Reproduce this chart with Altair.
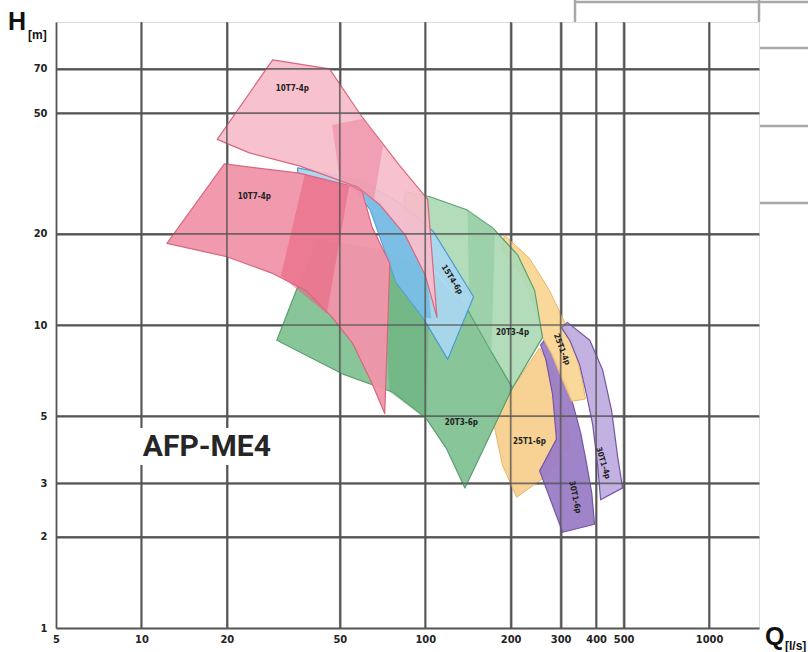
import altair as alt
import pandas as pd

# ---------------- data (Q in l/s, H in m) ----------------
x_ticks = [5, 10, 20, 50, 100, 200, 300, 400, 500, 1000]
y_ticks = [1, 2, 3, 5, 10, 20, 50, 70]

q_10t7_4p = [29, 46, 60, 81, 102, 110, 100, 85, 69, 58, 36, 24, 18.5]
h_10t7_4p = [75, 70, 48.5, 33.7, 26, 10.6, 14.6, 19.8, 25, 28.5, 33.5, 37, 41]

q_10t7_6p = [19.6, 36, 55.5, 60, 65, 75, 72, 65, 55.5, 47, 38, 29, 20, 12.3]
h_10t7_6p = [34, 31.7, 28.7, 27.5, 21, 16, 5.1, 6.4, 8.7, 10.6, 13, 14.8, 16.8, 18.6]

q_15t4 = [35.5, 59, 81, 107, 148, 120, 98, 79, 64, 57, 35.5]
h_15t4 = [33, 30, 25.3, 20.3, 12.4, 7.7, 10.6, 13.8, 24, 28, 31.7]

q_20t3_4p = [85, 104, 140, 173, 212, 243, 259, 203, 169, 143, 120, 100, 83]
h_20t3_4p = [27.5, 26.5, 24, 20.9, 17, 13, 9.1, 6.2, 8.3, 11, 13.8, 17, 20.3]

q_20t3_6p = [30, 35, 42, 69, 104, 143, 203, 138, 119, 101, 77, 51]
h_20t3_6p = [8.9, 12.9, 19, 17.7, 15.2, 11, 6.2, 2.9, 3.9, 4.9, 6, 6.9]

q_25t1_4p = [190, 233, 274, 310, 336, 356, 367, 328, 302, 279, 259, 243, 219, 187]
h_25t1_4p = [19.8, 16.6, 13, 10.2, 8.3, 6.7, 5.7, 5.6, 6.7, 8, 9.1, 11.6, 14.6, 17.7]

q_25t1_6p = [203, 253, 286, 310, 323, 270, 210, 187, 173, 190]
h_25t1_6p = [6.2, 8.4, 6.8, 5.2, 4.0, 3.2, 2.7, 3.45, 4.9, 5.7]

q_30t1_4p = [317, 380, 422, 454, 476, 496, 415, 405, 389, 370, 350, 323, 302]
h_30t1_4p = [10.2, 8.9, 7.1, 5.2, 3.7, 2.9, 2.65, 3.45, 4.7, 5.9, 7.4, 8.9, 9.8]

q_30t1_6p = [263, 286, 310, 333, 353, 370, 386, 395, 305, 253, 290, 281, 266, 255]
h_30t1_6p = [8.9, 7.8, 6.6, 5.4, 4.4, 3.5, 2.8, 2.2, 2.07, 3.3, 4.2, 5.9, 7.7, 8.6]

# best-efficiency (darker) zones inside some ranges
q_band_10t7_4p = [47, 61, 71, 66, 50]
h_band_10t7_4p = [45.7, 48, 39, 26, 30]
q_band_10t7_6p = [37.6, 54, 45, 31]
h_band_10t7_6p = [31.3, 28.8, 10.9, 14.5]
q_band_15t4 = [58, 70, 87, 102, 105, 98, 79, 64]
h_band_15t4 = [29, 25.3, 19.1, 14.1, 10.5, 10.6, 13.8, 24]
q_band_20t3_6p = [69, 104, 101, 75]
h_band_20t3_6p = [17.7, 15, 4.9, 6.0]
q_band_20t3_4p = [141, 176, 171, 143]
h_band_20t3_4p = [24, 20.7, 8.1, 11]

label_text = ["10T7-4p", "10T7-4p", "15T4-6p", "20T3-4p", "20T3-6p",
              "25T1-4p", "25T1-6p", "30T1-4p", "30T1-6p"]
label_q = [34, 25, 124, 203, 134, 302, 233, 422, 336]
label_h = [60, 26.5, 14.1, 9.4, 4.75, 8.3, 4.1, 3.5, 2.7]
label_angle = [0, 0, 58, 0, 0, 69, 0, 73, 78]

series_name = "AFP-ME4"
name_q, name_h = 17, 3.95
name_box_q = [9.3, 30]
name_box_h = [3.45, 4.57]

# ---------------- styles ----------------
polys = [
    (q_25t1_6p, h_25t1_6p, "#f8d08e", "#e9b766", 0.95, 1),
    (q_30t1_6p, h_30t1_6p, "#9b7dc6", "#7456a6", 0.95, 1.2),
    (q_25t1_4p, h_25t1_4p, "#f9d695", "#e9b766", 0.95, 1),
    (q_30t1_4p, h_30t1_4p, "#c0ade0", "#7456a6", 0.95, 1.2),
    (q_20t3_6p, h_20t3_6p, "#82c293", "#5c9f70", 0.95, 1.2),
    (q_band_20t3_6p, h_band_20t3_6p, "#5fa874", None, 0.45, 0),
    (q_20t3_4p, h_20t3_4p, "#acd9b5", "#5c9f70", 0.93, 1.2),
    (q_band_20t3_4p, h_band_20t3_4p, "#86c597", None, 0.5, 0),
    (q_15t4, h_15t4, "#a9d6ee", "#4b9bd1", 0.95, 1.2),
    (q_band_15t4, h_band_15t4, "#6cb5e2", None, 0.75, 0),
    (q_10t7_6p, h_10t7_6p, "#f095aa", "#d8677f", 0.96, 1.2),
    (q_band_10t7_6p, h_band_10t7_6p, "#e8607e", None, 0.55, 0),
    (q_10t7_4p, h_10t7_4p, "#f6bcca", "#d8677f", 0.93, 1.2),
    (q_band_10t7_4p, h_band_10t7_4p, "#ec8098", None, 0.5, 0),
]

GRID = "#555555"
LABEL_FONT = "Liberation Sans Narrow, DejaVu Sans Condensed, Liberation Sans, sans-serif"
xscale = alt.Scale(type="log", domain=[5, 1500], nice=False)
yscale = alt.Scale(type="log", domain=[1, 100], nice=False)
xaxis = alt.Axis(values=x_ticks, title=None, grid=True, gridColor=GRID, gridWidth=1.8,
                 gridOpacity=1, ticks=False, domain=False, labelFont=LABEL_FONT,
                 labelFontWeight="bold", labelFontSize=11, labelColor="#222", format="d",
                 labelPadding=5, labelFlush=False, labelOverlap=False)
yaxis = alt.Axis(values=y_ticks, title=None, grid=True, gridColor=GRID, gridWidth=1.8,
                 gridOpacity=1, ticks=False, domain=False, labelFont=LABEL_FONT,
                 labelFontWeight="bold", labelFontSize=11, labelColor="#222", format="d",
                 labelPadding=9, labelFlush=False, labelOverlap=False)


def X(field):
    return alt.X(field, scale=xscale, axis=xaxis)


def Y(field):
    return alt.Y(field, scale=yscale, axis=yaxis)


layers = []
for q, h, fill, stroke, op, sw in polys:
    df = pd.DataFrame({"q": q, "h": h, "i": list(range(len(q)))})
    kw = dict(interpolate="linear-closed", fill=fill, fillOpacity=op, strokeJoin="round")
    if stroke:
        kw.update(stroke=stroke, strokeWidth=sw)
    else:
        kw.update(stroke=fill, strokeOpacity=0, strokeWidth=0)
    layers.append(alt.Chart(df).mark_line(**kw).encode(
        x=X("q:Q"), y=Y("h:Q"), order=alt.Order("i:Q")))

# grid lines again, on top of the coloured ranges (as in the printed chart)
layers.append(alt.Chart(pd.DataFrame({"q": x_ticks[1:]})).mark_rule(
    color=GRID, strokeWidth=1.7, opacity=0.8).encode(x=X("q:Q")))
layers.append(alt.Chart(pd.DataFrame({"h": y_ticks[1:]})).mark_rule(
    color=GRID, strokeWidth=1.7, opacity=0.8).encode(y=Y("h:Q")))

lab_df = pd.DataFrame({"t": label_text, "q": label_q, "h": label_h, "a": label_angle})
layers.append(alt.Chart(lab_df).mark_text(font=LABEL_FONT, fontWeight="bold",
                                          fontSize=8, color="#222").encode(
    x=X("q:Q"), y=Y("h:Q"), text="t:N", angle=alt.Angle("a:Q", scale=None)))

layers.append(alt.Chart(pd.DataFrame({"q": [name_box_q[0]], "q2": [name_box_q[1]],
                                      "h": [name_box_h[0]], "h2": [name_box_h[1]]})).mark_rect(
    fill="white", opacity=1).encode(x=X("q:Q"), x2="q2:Q", y=Y("h:Q"), y2="h2:Q"))
layers.append(alt.Chart(pd.DataFrame({"t": [series_name], "q": [name_q], "h": [name_h]})).mark_text(
    font="Roboto", fontWeight="bold", fontSize=30, color="#262626",
    align="center", baseline="middle").encode(x=X("q:Q"), y=Y("h:Q"), text="t:N"))

one = pd.DataFrame({"a": [0]})
titles = [
    ("H", -48, 8, 25),
    ("[m]", -28, 17, 12),
    ("Q", 709, 623, 25),
    ("[l/s]", 729, 628, 12),
]
for t, px, py, fs in titles:
    layers.append(alt.Chart(one).mark_text(font="Liberation Sans", fontSize=fs, fontWeight="bold",
                                           color="#111", align="left", baseline="alphabetic").encode(
        x=alt.value(px), y=alt.value(py), text=alt.value(t)))

frame = [
    (519, 752, -20, -20),
    (519, 519, -22, 0),
    (703, 703, -22, 0),
    (704, 752, 26, 26),
    (704, 752, 104, 104),
    (704, 752, 181, 181),
]
for x1, x2, y1, y2 in frame:
    layers.append(alt.Chart(one).mark_rule(color="#a8a8a8", strokeWidth=2.5).encode(
        x=alt.value(x1), x2=alt.value(x2), y=alt.value(y1), y2=alt.value(y2)))

chart = alt.layer(*layers).properties(
    width=703, height=606,
    autosize=alt.AutoSizeParams(type="none"),
    padding={"left": 56, "top": 22, "right": 49, "bottom": 24},
).configure_view(stroke=GRID, strokeWidth=2.2).configure(background="white")

chart.save("out.html", embed_options={"renderer": "svg", "actions": False})
